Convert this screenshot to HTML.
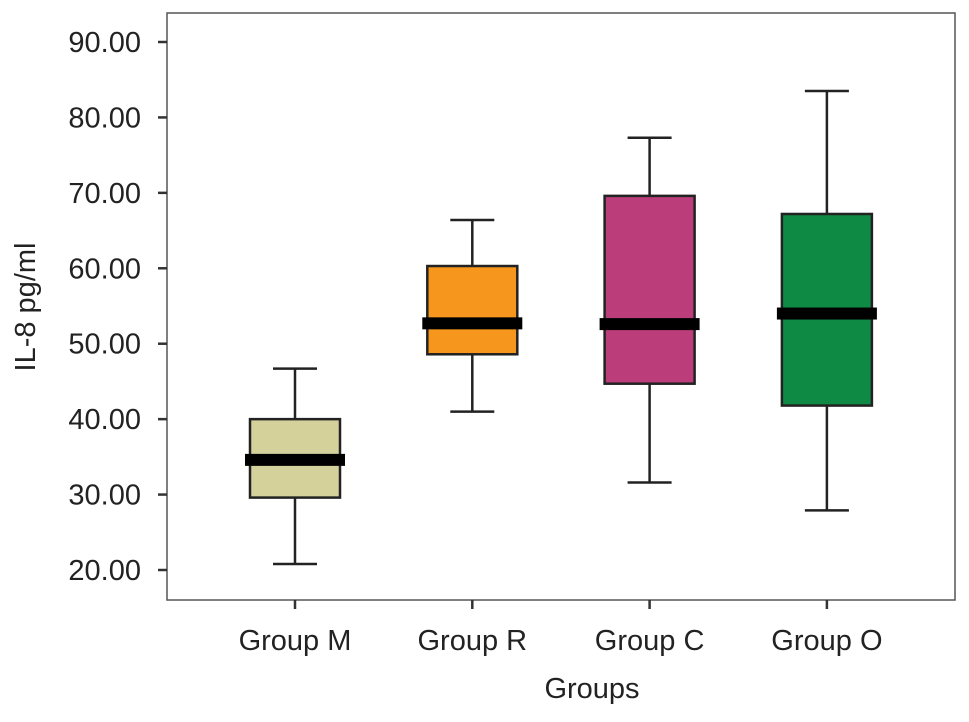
<!DOCTYPE html>
<html><head><meta charset="utf-8"><style>
body{margin:0;background:#fff}
svg text{font-family:"Liberation Sans",Arial,sans-serif;fill:#222}
</style></head><body>
<svg width="969" height="717">
<g id="g"></g>
</svg>
<script>
const categories=["Group M","Group R","Group C","Group O"];
const whiskerLow=[20.8,41.0,31.6,27.9];
const q1=[29.6,48.6,44.7,41.8];
const medians=[34.6,52.7,52.6,54.0];
const q3=[40.0,60.3,69.6,67.2];
const whiskerHigh=[46.7,66.4,77.3,83.5];
const colors=["#d5d19b","#f7961c","#bb3d79","#0e8a45"];
const yTicks=[20,30,40,50,60,70,80,90];
const yTickLabels=["20.00","30.00","40.00","50.00","60.00","70.00","80.00","90.00"];
const NS="http://www.w3.org/2000/svg";
const g=document.getElementById('g');
const L=167,R=955,T=13,B=600;
function y(v){return 570-(v-20)*(528/70);}
function x(i){return 295+i*177.3;}
function mk(t,a,p){const e=document.createElementNS(NS,t);for(const k in a)e.setAttribute(k,a[k]);(p||g).appendChild(e);return e;}
const frame=mk('rect',{x:L,y:T,width:R-L,height:B-T,fill:'none',stroke:'#555','stroke-width':1.5});


yTicks.forEach((v,i)=>{
 const tk=mk('line',{x1:L-9,x2:L,y1:y(v),y2:y(v),stroke:'#333','stroke-width':2.5});
 
 
 const t=mk('text',{x:141,y:y(v)+10,'text-anchor':'end','font-size':29});
 t.textContent=yTickLabels[i];
 
 
});
categories.forEach((c,i)=>{
 const cx=x(i),bw=90,cw=44,mw=100;
 const grp=mk('g',{});
 
 
 mk('line',{x1:cx,x2:cx,y1:y(whiskerLow[i]),y2:y(whiskerHigh[i]),stroke:'#222','stroke-width':2.5},grp);
 mk('line',{x1:cx-cw/2,x2:cx+cw/2,y1:y(whiskerLow[i]),y2:y(whiskerLow[i]),stroke:'#222','stroke-width':2.5},grp);
 mk('line',{x1:cx-cw/2,x2:cx+cw/2,y1:y(whiskerHigh[i]),y2:y(whiskerHigh[i]),stroke:'#222','stroke-width':2.5},grp);
 mk('rect',{x:cx-bw/2,y:y(q3[i]),width:bw,height:y(q1[i])-y(q3[i]),fill:colors[i],stroke:'#222','stroke-width':2.5},grp);
 mk('rect',{x:cx-mw/2,y:y(medians[i])-6,width:mw,height:12,fill:'#000'},grp);
 const tk=mk('line',{x1:cx,x2:cx,y1:B,y2:B+9,stroke:'#333','stroke-width':2.5});
 
 
 const t=mk('text',{x:cx,y:650,'text-anchor':'middle','font-size':29});
 t.textContent=c;
 
 
});
const xt=mk('text',{x:592,y:698,'text-anchor':'middle','font-size':29});
xt.textContent='Groups';


const yt=mk('text',{x:0,y:0,'text-anchor':'middle','font-size':29,transform:'translate(35,307) rotate(-90)'});
yt.textContent='IL-8 pg/ml';


</script>
</body></html>
